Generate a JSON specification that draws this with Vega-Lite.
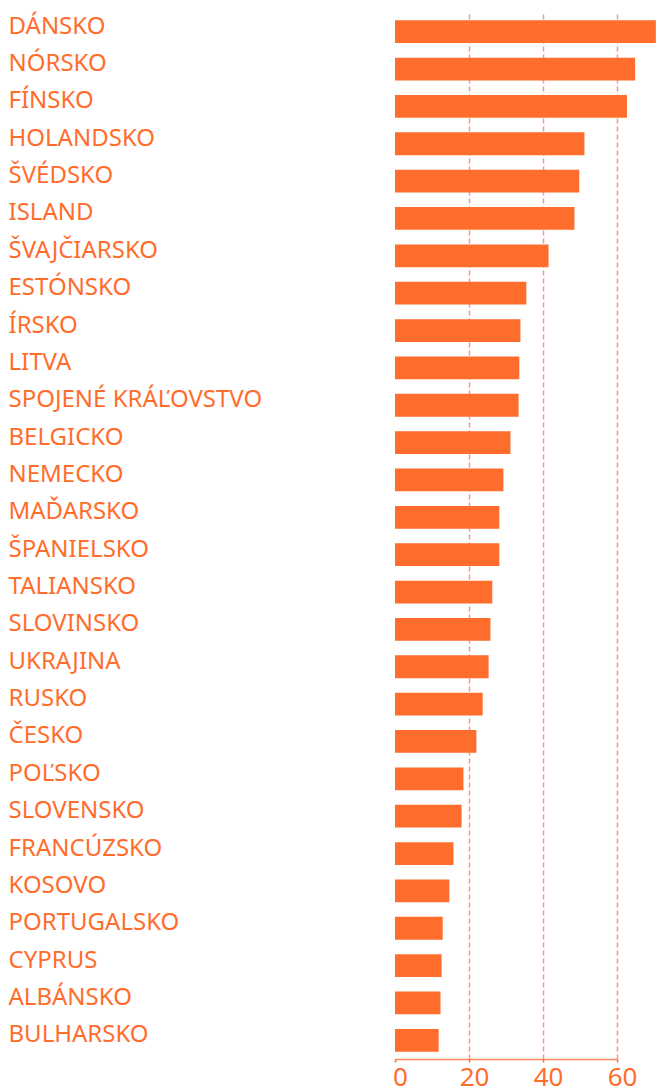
{
  "$schema": "https://vega.github.io/schema/vega-lite/v6.json",
  "autosize": {"type": "none"},
  "width": 222,
  "height": 1046,
  "padding": {"left": 395, "top": 13, "right": 40, "bottom": 31},
  "background": "white",
  "data": {
    "values": [
      {"krajina": "Dánsko", "hodnota": 70.5},
      {"krajina": "Nórsko", "hodnota": 64.9},
      {"krajina": "Fínsko", "hodnota": 62.7},
      {"krajina": "Holandsko", "hodnota": 51.2},
      {"krajina": "Švédsko", "hodnota": 49.8},
      {"krajina": "Island", "hodnota": 48.5},
      {"krajina": "Švajčiarsko", "hodnota": 41.5},
      {"krajina": "Estónsko", "hodnota": 35.5},
      {"krajina": "Írsko", "hodnota": 33.9},
      {"krajina": "Litva", "hodnota": 33.6},
      {"krajina": "Spojené kráľovstvo", "hodnota": 33.4},
      {"krajina": "Belgicko", "hodnota": 31.2},
      {"krajina": "Nemecko", "hodnota": 29.3},
      {"krajina": "Maďarsko", "hodnota": 28.2},
      {"krajina": "Španielsko", "hodnota": 28.2},
      {"krajina": "Taliansko", "hodnota": 26.3},
      {"krajina": "Slovinsko", "hodnota": 25.8},
      {"krajina": "Ukrajina", "hodnota": 25.3},
      {"krajina": "Rusko", "hodnota": 23.7},
      {"krajina": "Česko", "hodnota": 22.0},
      {"krajina": "Poľsko", "hodnota": 18.5},
      {"krajina": "Slovensko", "hodnota": 18.0},
      {"krajina": "Francúzsko", "hodnota": 15.8},
      {"krajina": "Kosovo", "hodnota": 14.7},
      {"krajina": "Portugalsko", "hodnota": 12.9},
      {"krajina": "Cyprus", "hodnota": 12.6},
      {"krajina": "Albánsko", "hodnota": 12.3},
      {"krajina": "Bulharsko", "hodnota": 11.8}
    ]
  },
  "mark": {"type": "bar", "color": "#FF6D2D", "clip": false},
  "encoding": {
    "y": {
      "field": "krajina",
      "type": "nominal",
      "sort": null,
      "scale": {"paddingInner": 0.39, "paddingOuter": 0.195},
      "axis": {
        "title": null,
        "orient": "left",
        "domain": false,
        "ticks": false,
        "grid": false,
        "labelExpr": "upper(datum.label)",
        "labelAlign": "left",
        "labelBaseline": "alphabetic",
        "labelPadding": 387,
        "labelOffset": 2,
        "labelLimit": 0,
        "labelFont": "Noto Sans",
        "labelFontSize": 24,
        "labelColor": "#FF6D2D"
      }
    },
    "x": {
      "field": "hodnota",
      "type": "quantitative",
      "scale": {"domain": [0, 60], "nice": false, "clamp": false},
      "axis": {
        "title": null,
        "values": [0, 20, 40, 60],
        "domainColor": "#FF6D2D",
        "domainWidth": 1.5,
        "domainOpacity": 0.8,
        "tickColor": "#FF6D2D",
        "tickSize": 3,
        "tickWidth": 1.5,
        "labelFont": "Noto Sans",
        "labelFontSize": 26,
        "labelColor": "#FF6D2D",
        "labelBaseline": "alphabetic",
        "labelPadding": 23,
        "labelOffset": 5,
        "labelFlush": false,
        "grid": true,
        "gridColor": {"condition": {"test": "datum.value === 0", "value": "transparent"}, "value": "#FF6D2D"},
        "gridOpacity": 0.7,
        "gridWidth": 1.5,
        "gridDash": [5, 3]
      }
    }
  },
  "config": {"view": {"stroke": null}}
}
